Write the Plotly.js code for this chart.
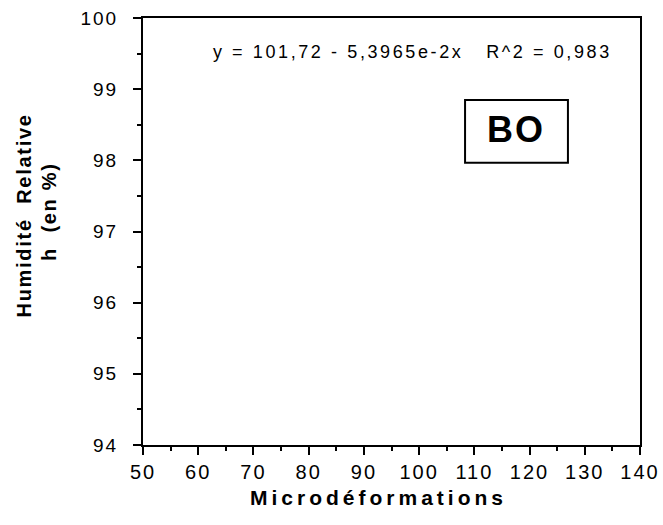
<!DOCTYPE html>
<html>
<head>
<meta charset="utf-8">
<script src="https://cdn.plot.ly/plotly-3.0.1.min.js"></script>
<style>
html,body{margin:0;padding:0;background:#fff;}
#chart{width:663px;height:525px;}
#chart .xtick text { letter-spacing: 2px; }
#chart .ytick text { letter-spacing: 2px; }
#chart g.annotation[data-index="0"] text { letter-spacing: 2.6px; }
#chart g.annotation[data-index="1"] text { letter-spacing: 2px; }
#chart g.annotation[data-index="2"] text, #chart g.annotation[data-index="3"] text { letter-spacing: 1.7px; }
#chart g.annotation[data-index="4"] text { letter-spacing: 4px; }
</style>
</head>
<body>
<div id="chart"></div>
<script>
// No data points are drawn in the reference; only axes and the fit text.
const microdeformations = [];
const humidite = [];
const xTicks = [50, 60, 70, 80, 90, 100, 110, 120, 130, 140];
const yTicks = [94, 95, 96, 97, 98, 99, 100];
const fitIntercept = "101,72";
const fitSlope = "5,3965e-2";
const fitR2 = "0,983";
const sampleLabel = "BO";
const xTitle = "Microdéformations";
const yTitleLine1 = "Humidité  Relative";
const yTitleLine2 = "h  (en %)";

const FONT = "Liberation Sans, Arial, Helvetica, sans-serif";

const data = [{
  x: microdeformations, y: humidite, type: "scatter", mode: "markers",
  marker: {color: "#000", size: 6}, showlegend: false
}];

const layout = {
  width: 663, height: 525,
  margin: {l: 143, r: 23, t: 18, b: 80},
  paper_bgcolor: "#fff", plot_bgcolor: "#fff",
  font: {family: FONT, color: "#000", size: 19},
  showlegend: false,
  xaxis: {
    range: [50, 140], tickvals: xTicks, ticktext: xTicks.map(String),
    ticks: "outside", ticklen: 8, tickwidth: 2, tickcolor: "#000",
    minor: {dtick: 5, ticks: "outside", ticklen: 4, tickwidth: 2, tickcolor: "#000"},
    showline: true, linecolor: "#000", linewidth: 2, mirror: true,
    showgrid: false, zeroline: false,
    tickfont: {size: 20, family: FONT}
  },
  yaxis: {
    range: [94, 100], tickvals: yTicks, ticktext: yTicks.map(String),
    ticks: "outside", ticklen: 8, tickwidth: 2, tickcolor: "#000",
    minor: {dtick: 0.5, ticks: "outside", ticklen: 4, tickwidth: 2, tickcolor: "#000"},
    showline: true, linecolor: "#000", linewidth: 2, mirror: true,
    showgrid: false, zeroline: false,
    ticklabelstandoff: 11,
    tickfont: {size: 19, family: FONT}
  },
  shapes: [{
    type: "rect", xref: "paper", yref: "paper",
    x0: 0.648, x1: 0.855, y0: 0.661, y1: 0.808,
    line: {color: "#000", width: 2}, fillcolor: "rgba(0,0,0,0)"
  }],
  annotations: [
    {
      xref: "paper", yref: "paper", x: 0.542, y: 0.92, xanchor: "center", yanchor: "middle",
      text: "y = " + fitIntercept + " - " + fitSlope + "x   R^2 = " + fitR2,
      showarrow: false, font: {size: 18, family: FONT}
    },
    {
      xref: "paper", yref: "paper", x: 0.7515, y: 0.740, xanchor: "center", yanchor: "middle",
      text: "<b>" + sampleLabel + "</b>", showarrow: false, font: {size: 36, family: FONT}
    },
    {
      xref: "paper", yref: "paper", x: -0.2394, y: 0.536, xanchor: "center", yanchor: "middle",
      textangle: -90, text: "<b>" + yTitleLine1 + "</b>", showarrow: false, font: {size: 20, family: FONT}
    },
    {
      xref: "paper", yref: "paper", x: -0.189, y: 0.545, xanchor: "center", yanchor: "middle",
      textangle: -90, text: "<b>" + yTitleLine2 + "</b>", showarrow: false, font: {size: 20, family: FONT}
    },
    {
      xref: "paper", yref: "paper", x: 0.474, y: -0.122, xanchor: "center", yanchor: "middle",
      text: "<b>" + xTitle + "</b>", showarrow: false, font: {size: 21, family: FONT}
    }
  ]
};

Plotly.newPlot("chart", data, layout, {displayModeBar: false, staticPlot: true});
</script>
</body>
</html>
